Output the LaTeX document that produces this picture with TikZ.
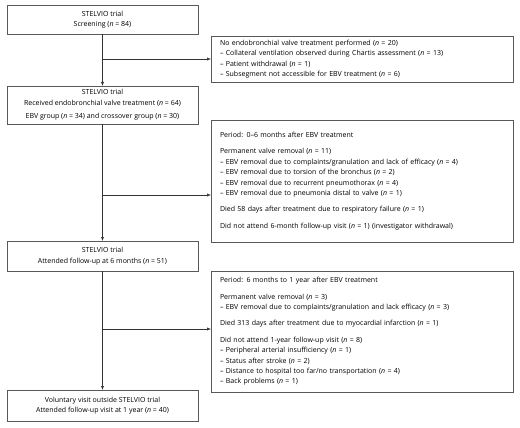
\documentclass[tikz,border=0pt]{standalone}
\usepackage{fontspec}
\setmainfont{Open Sans}
\usetikzlibrary{arrows.meta}
\begin{document}
\begin{tikzpicture}[x=1pt,y=-1pt,
  every node/.style={font=\fontsize{7}{10.4}\selectfont, text=black},
  lbox/.style={draw=black!65, line width=0.6pt, minimum width=191, inner sep=0pt, outer sep=0pt, align=center},
  rbox/.style={draw=black!65, line width=0.6pt, minimum width=302, text width=284, inner xsep=9pt, inner ysep=0pt, outer sep=0pt, align=left},
  conn/.style={draw=black!80, line width=0.6pt},
  arr/.style={conn, -{Latex[length=4pt,width=3.2pt]}}]
\useasboundingbox (0,0) rectangle (520,428);
\node[lbox, minimum height=29] (s1) at (102.5,19.5) {STELVIO trial\\Screening (\textit{n} = 84)};
\node[lbox, minimum height=38] (s2) at (102.5,105) {STELVIO trial\\Received endobronchial valve treatment (\textit{n} = 64)\\[3pt]EBV group (\textit{n} = 34) and crossover group (\textit{n} = 30)};
\node[lbox, minimum height=30] (s3) at (102.5,256) {STELVIO trial\\Attended follow-up at 6 months (\textit{n} = 51)};
\node[lbox, minimum height=31] (s4) at (102.5,405.5) {Voluntary visit outside STELVIO trial\\Attended follow-up visit at 1 year (\textit{n} = 40)};
\node[rbox, minimum height=46] (r1) at (362,59) {No endobronchial valve treatment performed (\textit{n} = 20)\\
– Collateral ventilation observed during Chartis assessment (\textit{n} = 13)\\
– Patient withdrawal (\textit{n} = 1)\\
– Subsegment not accessible for EBV treatment (\textit{n} = 6)};
\node[rbox, minimum height=122] (r2) at (362,181) {Period: 0–6 months after EBV treatment\\[6pt]
Permanent valve removal (\textit{n} = 11)\\
– EBV removal due to complaints/granulation and lack of efficacy (\textit{n} = 4)\\
– EBV removal due to torsion of the bronchus (\textit{n} = 2)\\
– EBV removal due to recurrent pneumothorax (\textit{n} = 4)\\
– EBV removal due to pneumonia distal to valve (\textit{n} = 1)\\[6pt]
Died 58 days after treatment due to respiratory failure (\textit{n} = 1)\\[6pt]
Did not attend 6-month follow-up visit (\textit{n} = 1) (investigator withdrawal)};
\node[rbox, minimum height=121] (r3) at (362,331.5) {Period: 6 months to 1 year after EBV treatment\\[6pt]
Permanent valve removal (\textit{n} = 3)\\
– EBV removal due to complaints/granulation and lack efficacy (\textit{n} = 3)\\[6pt]
Died 313 days after treatment due to myocardial infarction (\textit{n} = 1)\\[6pt]
Did not attend 1-year follow-up visit (\textit{n} = 8)\\
– Peripheral arterial insufficiency (\textit{n} = 1)\\
– Status after stroke (\textit{n} = 2)\\
– Distance to hospital too far/no transportation (\textit{n} = 4)\\
– Back problems (\textit{n} = 1)};
\coordinate (j1) at (s1.south |- r1.west);
\coordinate (j2) at (s2.south |- 0,195);
\coordinate (j3) at (s3.south |- 0,329);
\draw[arr] (s1.south) -- (s2.north);
\draw[arr] (j1) -- (r1.west);
\draw[arr] (s2.south) -- (s3.north);
\draw[arr] (j2) -- (j2 -| r2.west);
\draw[arr] (s3.south) -- (s4.north);
\draw[arr] (j3) -- (j3 -| r3.west);
\end{tikzpicture}
\end{document}
